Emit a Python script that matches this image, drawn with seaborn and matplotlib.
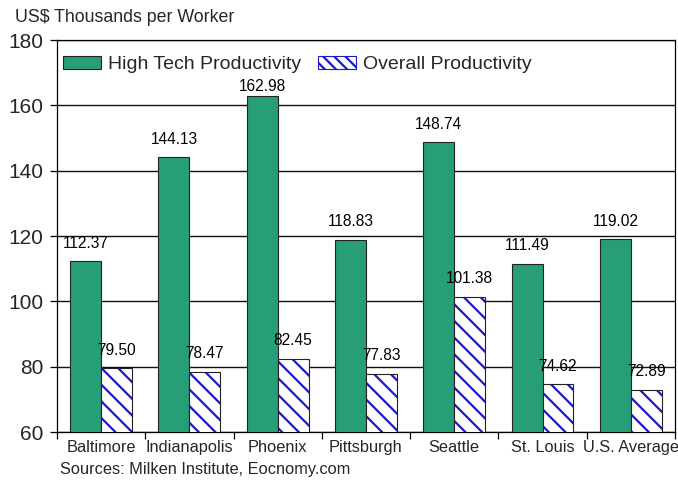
import matplotlib
matplotlib.use("Agg")
import matplotlib.pyplot as plt
from matplotlib.patches import Rectangle, Patch
import seaborn as sns
import pandas as pd
import numpy as np

cities = ["Baltimore", "Indianapolis", "Phoenix", "Pittsburgh", "Seattle", "St. Louis", "U.S. Average"]
high_tech = [112.37, 144.13, 162.98, 118.83, 148.74, 111.49, 119.02]
overall = [79.50, 78.47, 82.45, 77.83, 101.38, 74.62, 72.89]
series = ["High Tech Productivity", "Overall Productivity"]
y_ticks = [60, 80, 100, 120, 140, 160, 180]

df = pd.DataFrame({
    "city": cities * 2,
    "value": high_tech + overall,
    "series": [series[0]] * len(cities) + [series[1]] * len(cities),
})

sns.set_theme(style="white")
plt.rcParams['font.family'] = ['Liberation Sans', 'DejaVu Sans']
plt.rcParams['hatch.linewidth'] = 1.6

fig = plt.figure(figsize=(6.78, 4.82), dpi=100)
ax = fig.add_axes([0.084, 0.1037, 0.9956 - 0.084, 0.917 - 0.1037])

green = "#279D78"
hatch_blue = "#1a1acc"
sns.barplot(data=df, x="city", y="value", hue="series", order=cities, hue_order=series,
            palette=[green, "white"], width=0.7, gap=0, ax=ax, legend=False,
            saturation=1, edgecolor="#222222", linewidth=0.8, zorder=3)

ax.set_ylim(60, 180)
ax.set_yticks(y_ticks)
ax.grid(axis="y", color="#111111", linewidth=1.0, zorder=0)
ax.set_axisbelow(True)

n = len(cities)
hatch_patches = ax.patches[n:2 * n]
for p in hatch_patches:
    p.set_edgecolor(hatch_blue)
    p.set_hatch("\\\\")
    p.set_linewidth(0)
    ax.add_patch(Rectangle(p.get_xy(), p.get_width(), p.get_height(), fill=False,
                           edgecolor="#222222", linewidth=0.8, zorder=4))

for ci, cont in enumerate(ax.containers[:2]):
    texts = ax.bar_label(cont, fmt="%.2f", padding=7.5, fontsize=11.2, color="black")
    if ci == 0:
        # Phoenix label sits closer to its bar (just below the legend)
        texts[cities.index("Phoenix")].xyann = (0, 1.0)

ax.set_xlim(-0.5, n - 0.5)
ax.set_xticks(np.arange(n))
ax.set_xticklabels(cities, fontsize=11.8)
ax.set_xticks(np.arange(n + 1) - 0.5, minor=True)
ax.tick_params(axis="x", which="major", length=0, pad=6)
ax.tick_params(axis="x", which="minor", length=5, width=0.9, color="black", bottom=True)
ax.tick_params(axis="y", length=5, width=0.9, color="black", left=True, labelsize=15, pad=5)
ax.set_xlabel("")
ax.set_ylabel("")
for s in ax.spines.values():
    s.set_color("black")
    s.set_linewidth(0.9)

h1 = Patch(facecolor=green, edgecolor="#222222", linewidth=0.8, label=series[0])
h2 = Patch(facecolor="white", edgecolor=hatch_blue, hatch="\\\\\\", linewidth=0.8, label=series[1])
ax.legend(handles=[h1, h2], loc="upper left", ncol=2, frameon=False, fontsize=14,
          bbox_to_anchor=(0.0097, 0.96), handlelength=1.96, handleheight=0.67,
          columnspacing=0.88, handletextpad=0.36, borderaxespad=0, borderpad=0)

fig.text(0.022, 0.964, "US$ Thousands per Worker", fontsize=12.8, ha="left", va="center")
fig.text(0.089, 0.025, "Sources: Milken Institute, Eocnomy.com", fontsize=11.8, ha="left", va="center")

fig.savefig("out.png", dpi=100)
